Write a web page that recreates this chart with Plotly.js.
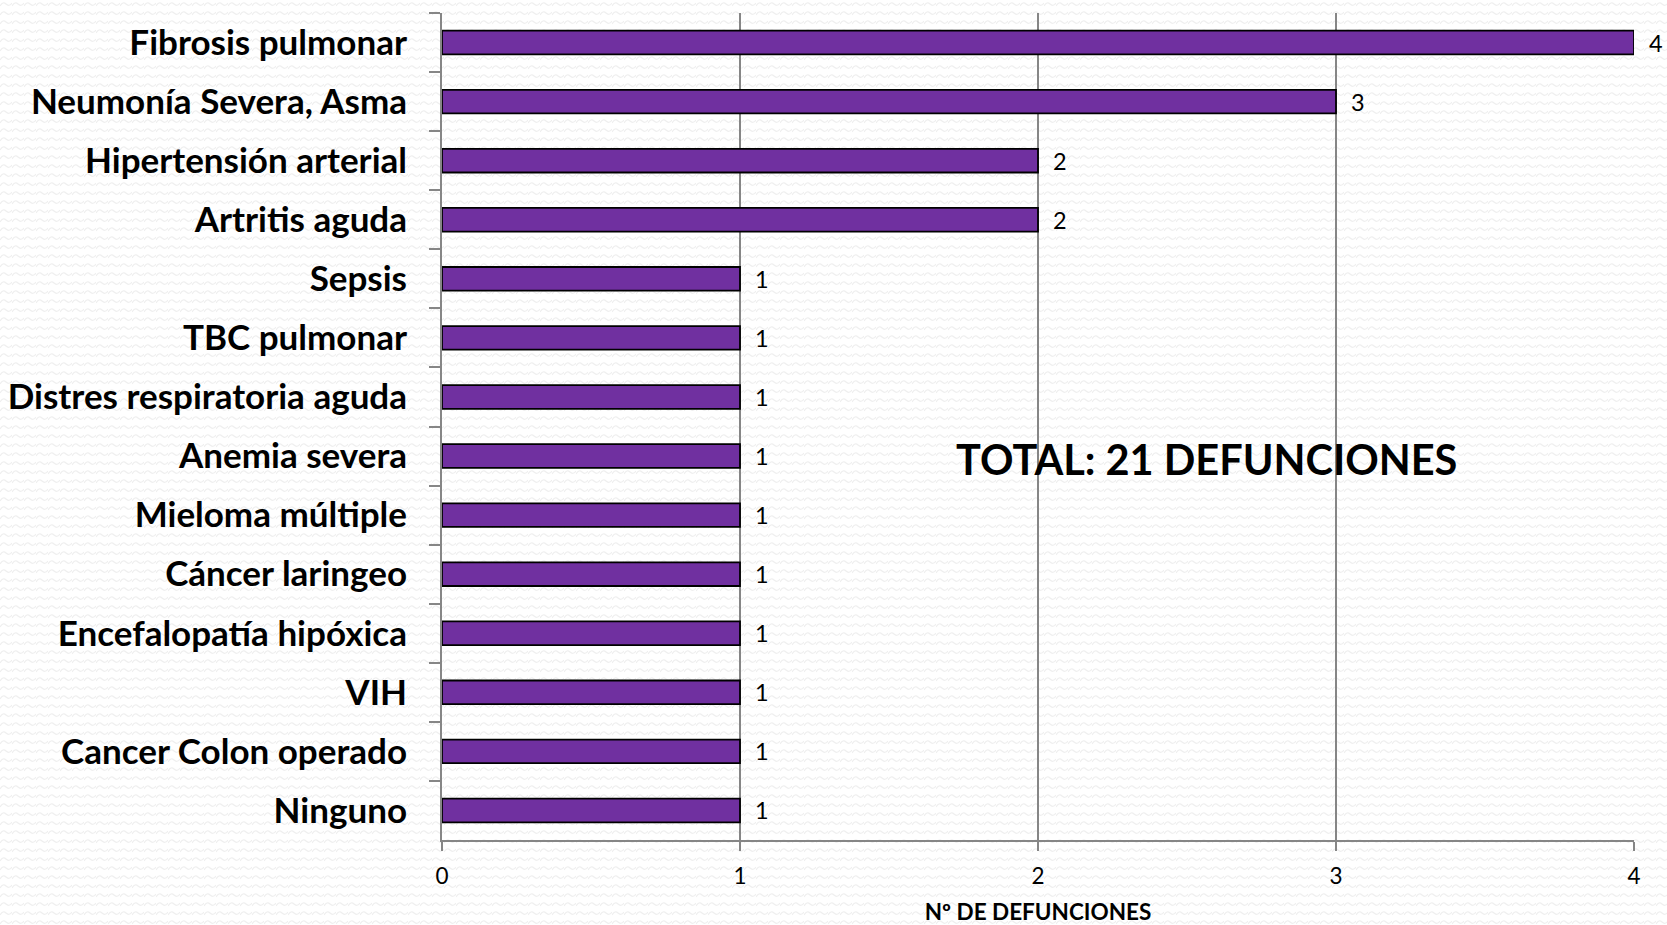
<!DOCTYPE html>
<html>
<head>
<meta charset="utf-8">
<script src="https://cdn.plot.ly/plotly-3.0.1.min.js"></script>
<style>
html, body { margin:0; padding:0; }
body {
  width:1667px; height:925px; overflow:hidden;
  background-color:#ffffff;
  background-image:url("data:image/svg+xml;utf8,<svg xmlns='http://www.w3.org/2000/svg' width='12' height='9'><path d='M0 6 Q3 1 6 4 T12 3' fill='none' stroke='%23efefef' stroke-width='1.2'/></svg>");
}
#chart { width:1667px; height:925px; }
</style>
</head>
<body>
<div id="chart"></div>
<script>
const categories = [
  "Fibrosis pulmonar",
  "Neumonía Severa, Asma",
  "Hipertensión arterial",
  "Artritis aguda",
  "Sepsis",
  "TBC pulmonar",
  "Distres respiratoria aguda",
  "Anemia severa",
  "Mieloma múltiple",
  "Cáncer laringeo",
  "Encefalopatía hipóxica",
  "VIH",
  "Cancer Colon operado",
  "Ninguno"
];
const defunciones = [4, 3, 2, 2, 1, 1, 1, 1, 1, 1, 1, 1, 1, 1];
const xTicks = [0, 1, 2, 3, 4];
const totalLabel = "TOTAL: 21 DEFUNCIONES";
const xTitle = "Nº DE DEFUNCIONES";

const FONT = "Lato, 'Open Sans', sans-serif";

const trace = {
  type: "bar",
  orientation: "h",
  x: defunciones,
  y: categories,
  marker: { color: "#7030A0", line: { color: "#000000", width: 1.8 } },
  texttemplate: "  %{x}",
  textposition: "outside",
  constraintext: "none",
  textfont: { family: FONT, size: 23.5, color: "#000000" },
  cliponaxis: false,
  hoverinfo: "x+y"
};

const layout = {
  width: 1667,
  height: 925,
  margin: { l: 442, r: 33, t: 13, b: 85 },
  paper_bgcolor: "rgba(0,0,0,0)",
  plot_bgcolor: "rgba(0,0,0,0)",
  bargap: 0.6,
  showlegend: false,
  xaxis: {
    range: [0, 4],
    tickvals: xTicks,
    ticktext: xTicks.map(String),
    showgrid: true,
    gridcolor: "#868686",
    gridwidth: 2,
    zeroline: false,
    showline: true,
    linecolor: "#868686",
    linewidth: 2,
    ticks: "outside",
    ticklen: 9,
    tickwidth: 2,
    tickcolor: "#868686",
    ticklabelstandoff: 6,
    tickfont: { family: FONT, size: 22.5, color: "#000000" },
    title: { text: xTitle, font: { family: FONT, size: 22.5, color: "#000000", weight: "bold" }, standoff: 24 },
    fixedrange: true
  },
  yaxis: {
    type: "category",
    autorange: "reversed",
    showgrid: false,
    zeroline: false,
    showline: true,
    linecolor: "#868686",
    linewidth: 2,
    ticks: "outside",
    tickson: "boundaries",
    ticklen: 11,
    tickwidth: 2,
    tickcolor: "#868686",
    ticklabelstandoff: 26,
    tickfont: { family: FONT, size: 35, color: "#000000", weight: "bold" },
    fixedrange: true
  },
  annotations: [{
    text: totalLabel,
    xref: "paper", yref: "paper",
    x: (1206 - 442) / (1667 - 442 - 33),
    y: 1 - (459 - 13) / (925 - 13 - 85),
    xanchor: "center", yanchor: "middle",
    showarrow: false,
    font: { family: FONT, size: 41.5, color: "#000000", weight: "bold" }
  }]
};

Plotly.newPlot("chart", [trace], layout, { displayModeBar: false, staticPlot: true });
</script>
</body>
</html>
